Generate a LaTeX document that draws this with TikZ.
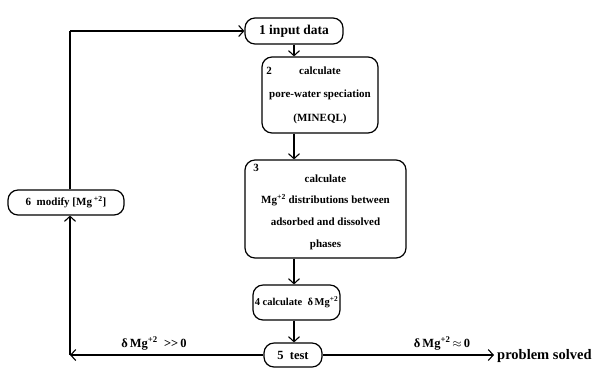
\documentclass[tikz,border=0pt]{standalone}
\usepackage{fontspec}
\setmainfont{Liberation Serif}
\usetikzlibrary{arrows.meta}
\newcommand{\fs}[1]{\bfseries\fontsize{#1}{1.2\dimexpr #1pt\relax}\selectfont}
\begin{document}
\begin{tikzpicture}[x=1pt,y=-1pt,
  font=\fs{11},
  box/.style={draw, line width=1.2pt, rounded corners=10pt, inner sep=0pt, align=center},
  num/.style={inner sep=0pt, anchor=center},
  flow/.style={line width=1.1pt, -{Straight Barb[length=5pt,width=11pt,line width=1.1pt]}},
  plain/.style={line width=1.1pt},
  lbl/.style={inner sep=0pt}]
\useasboundingbox (0,0) rectangle (601,368);
% boxes
\node[box, font=\fs{13.5}, minimum width=98pt, minimum height=26pt] (n1) at (294,31) {1 input data};
\node[box, minimum width=116pt, minimum height=76pt] (n2) at (320,95)
  {calculate\\[10.5pt]pore-water speciation\\[10pt](MINEQL)};
\node[num] (n2num) at (269,71) {2};
\node[box, minimum width=161pt, minimum height=98pt] (n3) at (325.5,209) {};
\node[lbl, align=center] (n3t) at (325.5,212)
  {calculate\\[8.5pt]Mg\textsuperscript{+2} distributions between\\[8.5pt]adsorbed and dissolved\\[8.5pt]phases};
\node[num] (n3num) at (256,168) {3};
\node[box, font=\fs{10.5}, minimum width=87pt, minimum height=35pt] (n4) at (296.5,302.5) {4 calculate\ \ δ\,Mg\textsuperscript{+2}};
\node[box, font=\fs{12.5}, minimum width=58pt, minimum height=24pt] (n5) at (293,355) {5\ \ test};
\node[box, font=\fs{11}, minimum width=116pt, minimum height=25pt] (n6) at (66,202.5) {6\ \ modify [Mg\,\textsuperscript{+2}]};
\node[lbl, font=\fs{14.5}, anchor=west] (ps) at (497,356) {problem solved};
% corners
\coordinate (cl) at (70,355);
\coordinate (ct) at (70,31);
\coordinate (cr) at (494,355);
% vertical flow
\draw[flow] (n1.south) -- (n1.south |- n2.north);
\draw[flow] (n1.south |- n2.south) -- (n1.south |- n3.north);
\draw[flow] (n1.south |- n3.south) -- (n1.south |- n4.north);
\draw[flow] (n1.south |- n4.south) -- (n1.south |- n5.north);
% loop back
\draw[flow] (n5.west) -- (cl);
\draw[flow] (cl) -- (n6.south -| cl);
\draw[plain] (n6.north -| ct) -- (ct);
\draw[flow] (ct) -- (n1.west);
% exit
\draw[flow] (n5.east) -- (cr);
% labels
\node[lbl, font=\fs{12.5}, anchor=south] (lgt) at (154,350) {δ\,Mg\textsuperscript{+2}\ \ >{}>\,0};
\node[lbl, font=\fs{12.5}, anchor=south] (lapp) at (442,350) {δ\,Mg\textsuperscript{+2}\,$\approx$\,0};
\end{tikzpicture}
\end{document}
